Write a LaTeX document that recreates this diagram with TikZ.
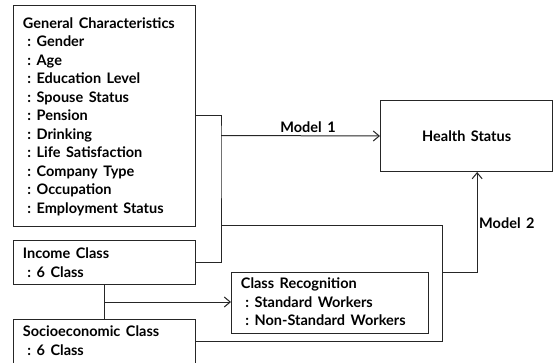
\documentclass[tikz,border=0pt]{standalone}
\usepackage{fontspec}
\setmainfont{Lato}
\usetikzlibrary{arrows.meta,calc}

\tikzset{
  box/.style={draw=black!85, line width=1pt, inner sep=0pt, anchor=north west},
  txt/.style={inner sep=0pt, anchor=north west, align=left,
    font={\bfseries\fontsize{14.5}{18.5}\selectfont\spaceskip=5.5pt plus 1pt\relax}},
  lbl/.style={inner sep=0pt, font={\bfseries\fontsize{14.5}{18.5}\selectfont\spaceskip=5.5pt plus 1pt\relax}},
  link/.style={draw=black!85, line width=1pt},
  arr/.style={link, -{Straight Barb[length=6pt,width=10pt,line width=1pt]}},
}
\newcommand{\itm}{\hspace*{4.5pt}:\ }

\begin{document}
\begin{tikzpicture}[x=1pt,y=-1pt]
  \clip (0,0) rectangle (553,363);
  \fill[white] (0,0) rectangle (553,363);

  % boxes
  \node[box, minimum width=182.3pt, minimum height=221.3pt] (gc) at (12.7,4.7) {};
  \node[box, minimum width=172.3pt, minimum height=71pt] (health) at (380,100) {};
  \node[box, minimum width=182.3pt, minimum height=44pt] (income) at (12.7,240) {};
  \node[box, minimum width=196.7pt, minimum height=61.6pt] (classrec) at (231,271.7) {};
  \node[box, minimum width=182.3pt, minimum height=44pt] (socio) at (12.7,319) {};

  % box texts
  \node[txt] (gct) at (22.7,15.35) {\strut General Characteristics\\
    \itm Gender\\ \itm Age\\ \itm Education Level\\ \itm Spouse Status\\
    \itm Pension\\ \itm Drinking\\ \itm Life Satisfaction\\ \itm Company Type\\
    \itm Occupation\\ \itm Employment Status};
  \node[lbl] (hst) at (health.center) {Health Status};
  \node[txt] (inct) at (22.7,245.35) {\strut Income Class\\ \itm 6 Class};
  \node[txt] (crt) at (240.7,275.35) {\strut Class Recognition\\
    \itm Standard Workers\\ \itm Non-Standard Workers};
  \node[txt] (sct) at (22.7,323.75) {\strut Socioeconomic Class\\ \itm 6 Class};

  % junction points of the connectors
  \coordinate (bx) at (221,135.5);
  \coordinate (c1) at (221,225.7);
  \coordinate (c2) at (442,225.7);
  \coordinate (c3) at (442,272.7);
  \coordinate (mid) at ($(income.south)!0.5!(socio.north)$);

  % Model 1: general characteristics and income class
  \draw[link] (gc.east) -| (bx) |- (income.east);
  \draw[arr] (bx) -- (health.west);
  \node[lbl] (m1) at (308,127.5) {Model 1};

  % Model 2: adds socioeconomic class and class recognition
  \draw[link] (c1) -- (c2) |- (socio.east);
  \draw[arr] (c3) -| ([xshift=10.5pt]health.south);
  \node[lbl, anchor=west] (m2) at (479,223) {Model 2};

  % income class and socioeconomic class to class recognition
  \draw[link] (income.south) -- (socio.north);
  \draw[arr] (mid) -- (mid -| classrec.west);
\end{tikzpicture}
\end{document}
